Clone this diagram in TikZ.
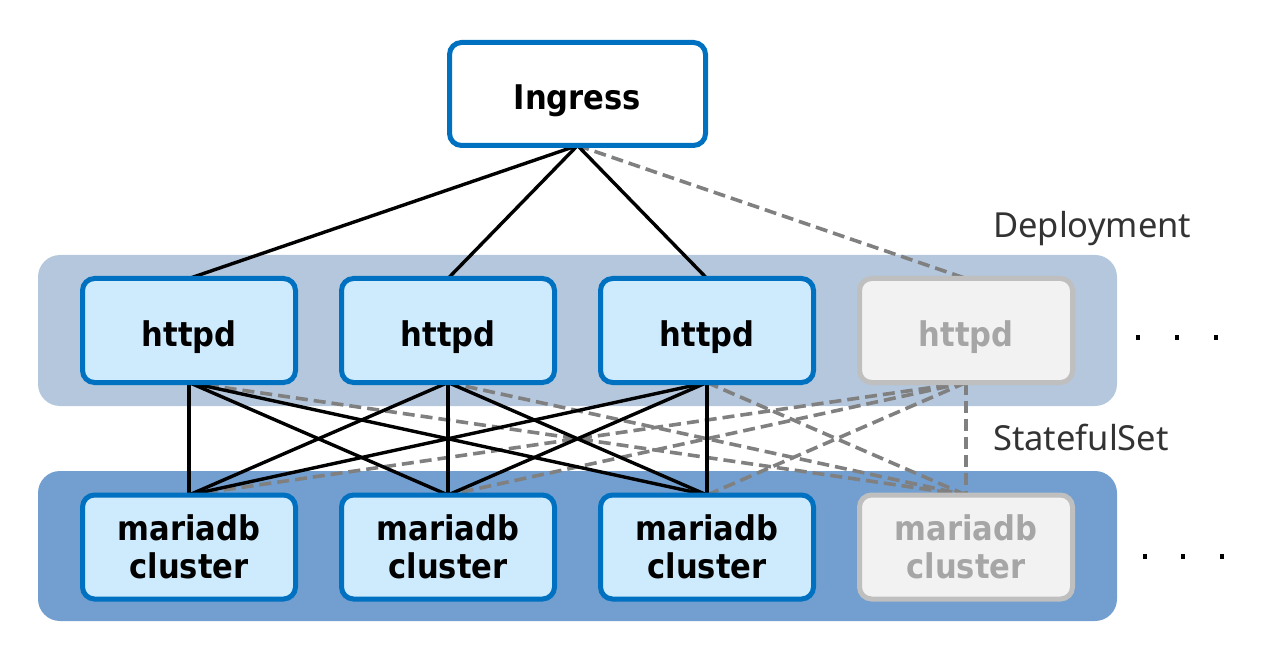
\documentclass[tikz,border=0pt]{standalone}
\usepackage{fontspec}
\setmainfont{Noto Sans}
\newfontfamily\podfont{DejaVu Sans Condensed}
\definecolor{boxblue}{HTML}{0070C0}
\definecolor{boxfill}{HTML}{CDEBFC}
\definecolor{bandlight}{HTML}{B4C7DC}
\definecolor{banddark}{HTML}{729FCF}
\definecolor{ghostfill}{HTML}{F2F2F2}
\definecolor{ghostline}{HTML}{BFBFBF}
\definecolor{ghosttext}{HTML}{A6A6A6}
\definecolor{dashgray}{HTML}{808080}
\definecolor{labelgray}{HTML}{333333}
\pgfdeclarelayer{bands}
\pgfdeclarelayer{links}
\pgfsetlayers{bands,links,main}
\tikzset{
  pod/.style={draw=boxblue, line width=5pt, fill=boxfill, rounded corners=12pt,
    minimum width=213pt, minimum height=104pt, outer sep=0pt, align=center,
    font=\podfont\fontsize{34}{38}\selectfont\bfseries, text=black, inner sep=0pt},
  oneline/.style={text height=32pt, text depth=0pt},
  ghost/.style={pod, draw=ghostline, fill=ghostfill, text=ghosttext},
  ingressbox/.style={pod, oneline, fill=white, minimum width=256pt, minimum height=103pt},
  band/.style={rounded corners=22pt},
  solidlink/.style={line width=3.4pt, black},
  dashlink/.style={line width=3.6pt, dashgray, dash pattern=on 12pt off 6pt},
  grouplabel/.style={anchor=base west, font=\fontsize{34.5}{40}\selectfont, text=labelgray, inner sep=0pt},
  dotmark/.style={fill=black, minimum width=4pt, minimum height=5pt, inner sep=0pt, outer sep=0pt}
}
\begin{document}
\begin{tikzpicture}[x=1pt,y=-1pt]
\useasboundingbox (0,0) rectangle (1280,660);
\begin{pgfonlayer}{bands}
\fill[bandlight, band] (38,255) rectangle (1117,406);
\fill[banddark, band] (38,471) rectangle (1117,621);
\end{pgfonlayer}
\node[ingressbox] (ing) at (577.5,94) {Ingress};
\node[pod, oneline] (h1) at (189,330.5) {httpd};
\node[pod, oneline] (h2) at (448,330.5) {httpd};
\node[pod, oneline] (h3) at (707,330.5) {httpd};
\node[ghost, oneline] (h4) at (966,330.5) {httpd};
\node[pod] (m1) at (189,547) {mariadb\\cluster};
\node[pod] (m2) at (448,547) {mariadb\\cluster};
\node[pod] (m3) at (707,547) {mariadb\\cluster};
\node[ghost] (m4) at (966,547) {mariadb\\cluster};
\node[grouplabel] (dep) at (993,238) {Deployment};
\node[grouplabel] (sts) at (993,450) {StatefulSet};
\node[dotmark] (d1) at (1138,338) {};
\node[dotmark] (d2) at (1177,338) {};
\node[dotmark] (d3) at (1216,338) {};
\node[dotmark] (e1) at (1145,556) {};
\node[dotmark] (e2) at (1183,556) {};
\node[dotmark] (e3) at (1222,556) {};
\begin{pgfonlayer}{links}
\draw[dashlink] (ing.south) -- (h4.north);
\foreach \i in {1,2,3} {
  \draw[dashlink] (h\i.south) -- (m4.north);
  \draw[dashlink] (h4.south) -- (m\i.north);
}
\draw[dashlink] (h4.south) -- (m4.north);
\foreach \i in {1,2,3} {
  \draw[solidlink] (ing.south) -- (h\i.north);
  \foreach \j in {1,2,3} {
    \draw[solidlink] (h\i.south) -- (m\j.north);
  }
}
\end{pgfonlayer}
\end{tikzpicture}
\end{document}
